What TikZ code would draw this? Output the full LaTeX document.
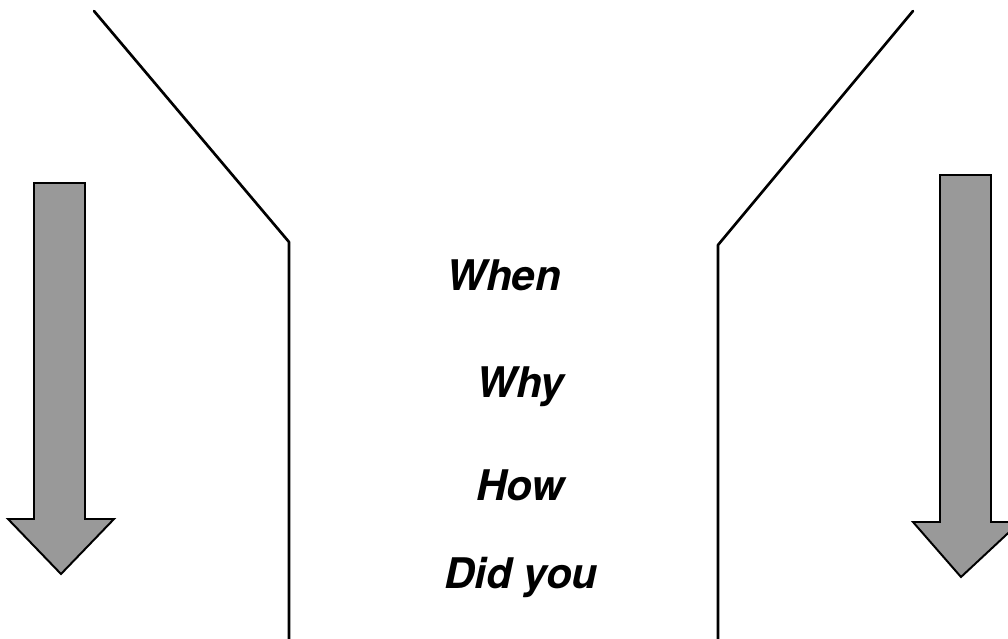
\documentclass[tikz,border=0pt]{standalone}
\usepackage{fontspec}
\setmainfont{TeX Gyre Heros}
\usepackage{tikz}

\tikzset{
    wall/.style={line width=1.9pt, line cap=round, line join=round},
    bigarrow/.style={draw, line width=1.4pt, line join=miter, fill=black!40},
    question/.style={anchor=base west, inner sep=0pt, font=\fontsize{30}{36}\selectfont\bfseries\itshape}
}

\begin{document}
\begin{tikzpicture}[x=0.025cm,y=-0.025cm]
    \useasboundingbox (0,0) rectangle (1008,639);

    % Funnel walls
    \coordinate (lt) at (94,11);
    \coordinate (lk) at (289,242);
    \coordinate (lb) at (289,639);
    \coordinate (rt) at (913,11);
    \coordinate (rk) at (718,245);
    \coordinate (rb) at (718,639);
    \draw[wall] (lt) -- (lk) -- (lb);
    \draw[wall] (rt) -- (rk) -- (rb);

    % Arrows
    \draw[bigarrow] (34,183) -- (85,183) -- (85,519) -- (114,519) -- (61,574)
        -- (8,519) -- (34,519) -- cycle;
    \draw[bigarrow] (940,175) -- (991,175) -- (991,522) -- (1020,522) -- (961,577)
        -- (913,522) -- (940,522) -- cycle;

    % Questions
    \foreach \i/\t/\x/\y in {1/When/446/290, 2/Why/476/397, 3/How/476/500, 4/Did you/444/588}
        \node[question] (q\i) at (\x,\y) {\t};
\end{tikzpicture}
\end{document}
